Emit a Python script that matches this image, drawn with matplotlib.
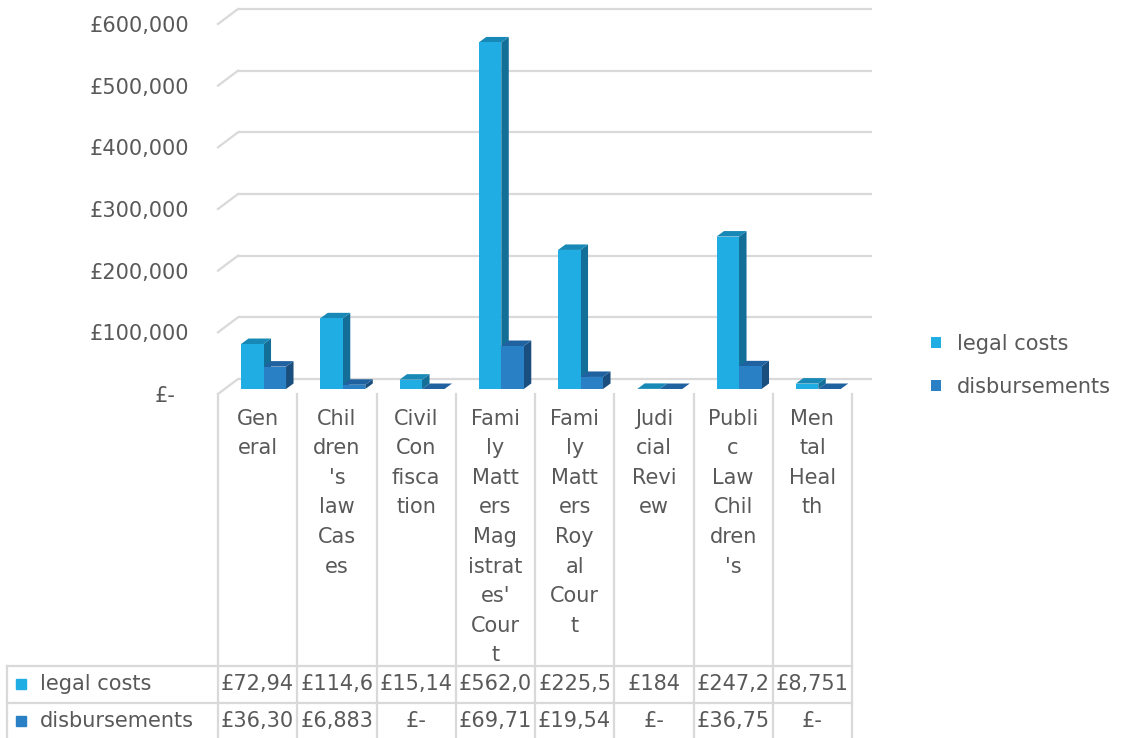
import matplotlib
matplotlib.use("Agg")
import matplotlib.pyplot as plt
import matplotlib.transforms as mtransforms
from matplotlib.patches import Polygon, Patch

# ---------------- data ----------------
categories = ["General", "Children's law Cases", "Civil Confiscation",
              "Family Matters Magistrates' Court", "Family Matters Royal Court",
              "Judicial Review", "Public Law Children's", "Mental Health"]
category_labels = ["Gen\neral", "Chil\ndren\n's\nlaw\nCas\nes", "Civil\nCon\nfisca\ntion",
                   "Fami\nly\nMatt\ners\nMag\nistrat\nes'\nCour\nt",
                   "Fami\nly\nMatt\ners\nRoy\nal\nCour\nt", "Judi\ncial\nRevi\new",
                   "Publi\nc\nLaw\nChil\ndren\n's", "Men\ntal\nHeal\nth"]
series_names = ["legal costs", "disbursements"]
legal_costs = [72940, 114600, 15140, 562000, 225500, 184, 247200, 8751]
disbursements = [36300, 6883, 0, 69710, 19540, 0, 36750, 0]
y_ticks = [0, 100000, 200000, 300000, 400000, 500000, 600000]
y_tick_labels = ["£-", "£100,000", "£200,000", "£300,000", "£400,000", "£500,000", "£600,000"]

# ---------------- style ----------------
TEXT = "#595959"
GRID = "#D9D9D9"
FS = 15
front_cols = ["#1FADE4", "#2A80C5"]
side_cols = ["#136F97", "#1A4E7E"]
top_cols = ["#1889B6", "#2062A0"]

FW, FH = 1129, 738
fig = plt.figure(figsize=(FW / 100, FH / 100), dpi=100)
plt.rcParams['font.family'] = ['DejaVu Sans']

ax_l, ax_r, ax_b, ax_t = 218, 852, 394, 24  # pixel frame of the front plane
ax = fig.add_axes([ax_l / FW, (FH - ax_b) / FH, (ax_r - ax_l) / FW, (ax_b - ax_t) / FH])
ax.set_xlim(-0.5, len(categories) - 0.5)
ax.set_ylim(0, 600000)
ax.patch.set_alpha(0)
for s in ax.spines.values():
    s.set_visible(False)
ax.tick_params(length=0)

W_px = ax_r - ax_l
H_px = ax_b - ax_t
ux = len(categories) / W_px       # data x per pixel
uy = 600000 / H_px                # data y per pixel

bp = (6.7 * ux, 5 * uy)           # bar plane offset
bk = (20 * ux, 15 * uy)           # back wall offset
dep = (7.5 * ux, 5.5 * uy)        # bar depth
w = 22.5 * ux
offsets = [-0.294, -0.294 + w]

n = len(categories)
xs = list(range(n))

# back wall gridlines
for v in y_ticks:
    ax.plot([-0.5 + bk[0], n - 0.5 + bk[0]], [v + bk[1]] * 2, color=GRID, lw=1.6,
            zorder=0, clip_on=False, solid_capstyle='butt')
    ax.plot([-0.5, -0.5 + bk[0]], [v, v + bk[1]], color=GRID, lw=1.6, zorder=0, clip_on=False)

# bars
for si, vals in enumerate([legal_costs, disbursements]):
    z = 2 + si
    lefts = [x + offsets[si] + bp[0] for x in xs]
    ax.bar(lefts, vals, width=w, bottom=bp[1], align='edge', color=front_cols[si],
           linewidth=0, zorder=z + 0.1, clip_on=False)
    for x0, v in zip(lefts, vals):
        x1 = x0 + w
        y0 = bp[1]
        y1 = bp[1] + v
        side = [(x1, y0), (x1 + dep[0], y0 + dep[1]), (x1 + dep[0], y1 + dep[1]), (x1, y1)]
        top = [(x0, y1), (x1, y1), (x1 + dep[0], y1 + dep[1]), (x0 + dep[0], y1 + dep[1])]
        ax.add_patch(Polygon(side, closed=True, facecolor=side_cols[si], linewidth=0,
                             zorder=z, clip_on=False))
        ax.add_patch(Polygon(top, closed=True, facecolor=top_cols[si], linewidth=0,
                             zorder=z, clip_on=False))

# y tick labels
ax.set_yticks(y_ticks[1:])
ax.set_yticklabels(y_tick_labels[1:], fontsize=FS, color=TEXT)
ax.tick_params(axis='y', pad=21)
blend = mtransforms.blended_transform_factory(ax.transAxes, ax.transData)
ax.text((176 - ax_l) / W_px, 0, y_tick_labels[0], transform=blend, ha='right',
        va='center_baseline', fontsize=FS, color=TEXT)

# x tick labels (category cells)
ax.set_xticks(xs)
ax.set_xticklabels(category_labels, fontsize=FS, color=TEXT, linespacing=1.6, va='top')
ax.tick_params(axis='x', pad=10.5)

# data table
def yf(p):
    return (ax_b - p) / H_px

xt = ax.get_xaxis_transform()
bottom_f = yf(FH + 5)
for b in range(n + 1):
    ax.plot([b - 0.5, b - 0.5], [0, bottom_f], transform=xt, color=GRID, lw=1.6, clip_on=False)
xleft = (7 - ax_l) / W_px
for yy in [666, 703]:
    ax.plot([xleft, 1], [yf(yy), yf(yy)], transform=ax.transAxes, color=GRID, lw=1.6, clip_on=False)
ax.plot([xleft, xleft], [yf(666), bottom_f], transform=ax.transAxes, color=GRID, lw=1.6, clip_on=False)


def fmt(v):
    if v == 0:
        return "£-"
    return ("£{:,.0f}".format(v))[:6]


row_y = [684, 721]
for si, vals in enumerate([legal_costs, disbursements]):
    ax.plot([(21 - ax_l) / W_px], [yf(row_y[si])], marker='s', ms=7.2, color=front_cols[si],
            transform=ax.transAxes, clip_on=False, linestyle='none')
    ax.text((40 - ax_l) / W_px, yf(row_y[si]), series_names[si], transform=ax.transAxes,
            ha='left', va='center', fontsize=FS, color=TEXT)
    for x, v in zip(xs, vals):
        ax.text(x, yf(row_y[si]), fmt(v), transform=xt, ha='center', va='center',
                fontsize=FS, color=TEXT)

# legend
handles = [Patch(facecolor=front_cols[i], edgecolor='none', label=series_names[i]) for i in range(2)]
ax.legend(handles=handles, loc='center left', bbox_to_anchor=((931 - ax_l) / W_px, yf(365.5)),
          frameon=False, fontsize=FS, labelcolor=TEXT, handlelength=0.48, handleheight=0.48,
          handletextpad=0.75, labelspacing=1.1, borderpad=0, borderaxespad=0)

fig.savefig("out.png", dpi=100)
